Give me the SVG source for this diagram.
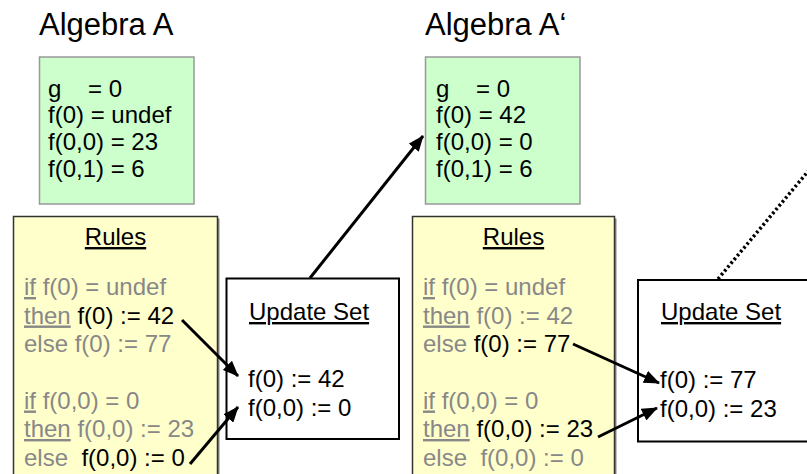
<svg xmlns="http://www.w3.org/2000/svg" width="807" height="474" viewBox="0 0 807 474">
<style>
text{font-family:"Liberation Sans",Arial,sans-serif;font-size:24px;fill:#000}
.title{font-size:31px}
.g{fill:#888}
.u{text-decoration:underline}
.alg{fill:#CCFFCC;stroke:#999;stroke-width:1.5}
.rules{fill:#FFFFCC;stroke:#333;stroke-width:1.5}
.shadow{fill:#888}
.upd{fill:#fff;stroke:#000;stroke-width:2}
.conn{stroke:#000;stroke-width:3;fill:none}
.dot{stroke:#000;stroke-width:3.5;fill:none;stroke-dasharray:2.5 2.5}
</style>
<defs>
<marker id="ah" markerUnits="userSpaceOnUse" markerWidth="16" markerHeight="13" refX="15" refY="6.5" orient="auto">
<path d="M0,0 L16,6.5 L0,13 Z" fill="#000"/>
</marker>
</defs>
<rect width="807" height="474" fill="#fff"/>

<g id="algebraA">
<text class="title" x="39" y="35">Algebra A</text>
<rect class="alg" x="39.5" y="57" width="154.5" height="147"/>
<text x="48" y="96.5">g<tspan x="88">= 0</tspan></text>
<text x="48" y="123">f(0) = undef</text>
<text x="48" y="150">f(0,0) = 23</text>
<text x="48" y="176.5">f(0,1) = 6</text>
</g>

<g id="rulesA">
<rect class="shadow" x="15.5" y="218.5" width="204" height="270"/>
<rect class="rules" x="13.5" y="216.5" width="204" height="270"/>
<text class="u" x="115.5" y="245" text-anchor="middle">Rules</text>
<text class="g" x="24" y="295"><tspan class="u">if</tspan> f(0) = undef</text>
<text class="g" x="24" y="323.5"><tspan class="u">then</tspan> <tspan fill="#000">f(0) := 42</tspan></text>
<text class="g" x="24" y="351.5">else f(0) := 77</text>
<text class="g" x="24" y="408.5"><tspan class="u">if</tspan> f(0,0) = 0</text>
<text class="g" x="24" y="437"><tspan class="u">then</tspan> f(0,0) := 23</text>
<text class="g" x="24" y="465.5">else <tspan dx="6.7" fill="#000">f(0,0) := 0</tspan></text>
</g>

<g id="updateA">
<rect class="upd" x="226.5" y="278.5" width="172.5" height="160.5"/>
<text class="u" x="249" y="320">Update Set</text>
<text x="248" y="387">f(0) := 42</text>
<text x="248" y="415.5">f(0,0) := 0</text>
</g>

<g id="algebraA2">
<text class="title" x="425" y="35">Algebra A‘</text>
<rect class="alg" x="425.5" y="57" width="154.5" height="147"/>
<text x="436" y="96.5">g<tspan x="476">= 0</tspan></text>
<text x="436" y="123">f(0) = 42</text>
<text x="436" y="150">f(0,0) = 0</text>
<text x="436" y="176.5">f(0,1) = 6</text>
</g>

<g id="rulesA2">
<rect class="shadow" x="414.5" y="218.5" width="202" height="270"/>
<rect class="rules" x="412.5" y="216.5" width="202" height="270"/>
<text class="u" x="513.5" y="245" text-anchor="middle">Rules</text>
<text class="g" x="423" y="295"><tspan class="u">if</tspan> f(0) = undef</text>
<text class="g" x="423" y="323.5"><tspan class="u">then</tspan> f(0) := 42</text>
<text class="g" x="423" y="351.5">else <tspan fill="#000">f(0) := 77</tspan></text>
<text class="g" x="423" y="408.5"><tspan class="u">if</tspan> f(0,0) = 0</text>
<text class="g" x="423" y="437"><tspan class="u">then</tspan> <tspan fill="#000">f(0,0) := 23</tspan></text>
<text class="g" x="423" y="465.5">else <tspan dx="6.7">f(0,0) := 0</tspan></text>
</g>

<g id="updateA2">
<rect class="upd" x="638" y="280" width="175" height="161.5"/>
<text class="u" x="661" y="320">Update Set</text>
<text x="660" y="388">f(0) := 77</text>
<text x="660" y="416.5">f(0,0) := 23</text>
</g>

<g id="connectors">
<line class="conn" x1="182" y1="320" x2="238" y2="376" marker-end="url(#ah)"/>
<line class="conn" x1="190" y1="464" x2="238" y2="407" marker-end="url(#ah)"/>
<line class="conn" x1="310" y1="278" x2="423" y2="136" marker-end="url(#ah)"/>
<line class="conn" x1="573" y1="344" x2="659" y2="383" marker-end="url(#ah)"/>
<line class="conn" x1="598" y1="437" x2="657" y2="408" marker-end="url(#ah)"/>
<line class="dot" x1="718" y1="279" x2="820" y2="157"/>
</g>
</svg>
